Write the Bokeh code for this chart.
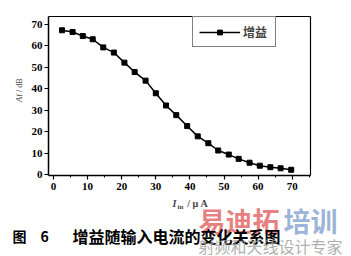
from bokeh.plotting import figure
from bokeh.models import Label, Legend, LegendItem, FixedTicker, Range1d, LinearAxis
from bokeh.embed import file_html
from bokeh.resources import INLINE
import math

current_uA = [2.5, 5.6, 8.6, 11.5, 14.6, 17.7, 20.8, 23.8, 27.0, 30.0, 33.0, 36.0,
              39.2, 42.3, 45.4, 48.3, 51.4, 54.3, 57.5, 60.5, 63.6, 66.6, 69.7]
gain_dB = [67.3, 66.5, 64.6, 63.1, 59.3, 56.9, 52.2, 47.8, 43.8, 37.9, 32.2, 27.7,
           22.6, 17.8, 14.6, 11.2, 9.3, 7.3, 5.5, 4.1, 3.4, 2.9, 2.2]
x_ticks = [0, 10, 20, 30, 40, 50, 60, 70]
x_minor = [5, 15, 25, 35, 45, 55, 65, 75]
y_ticks = [0, 10, 20, 30, 40, 50, 60, 70]
series_name = "增益"
caption_no = "图\u30006"
caption = "增益随输入电流的变化关系图"

# plot box in data units
X0, X1 = -1.5, 75.5
Y0, Y1 = -0.5, 73.7

# canvas pixel -> data conversion (frame fills the whole canvas)
def px2x(px):
    return (px - 53) / 3.41

def py2y(py):
    return (174 - py) / 2.143

W, H = 351, 256
p = figure(width=W, height=H, output_backend="svg", toolbar_location=None,
           x_range=Range1d(px2x(0), px2x(W)), y_range=Range1d(py2y(H), py2y(0)),
           min_border=0)
p.grid.visible = False
p.outline_line_color = None

xa = p.xaxis[0]
ya = p.yaxis[0]
xa.fixed_location = Y0
ya.fixed_location = X0
xa.bounds = (X0, X1)
ya.bounds = (Y0, Y1)
for ax in (xa, ya):
    ax.axis_line_width = 1.5
    ax.major_tick_line_width = 1.2
    ax.major_label_text_font = "Liberation Serif"
    ax.major_label_text_font_style = "bold"
    ax.major_label_text_font_size = "11px"
    ax.major_label_text_color = "black"
    ax.major_tick_out = 4
    ax.major_tick_in = 0
xa.ticker = FixedTicker(ticks=x_ticks, minor_ticks=x_minor)
ya.ticker = FixedTicker(ticks=y_ticks, minor_ticks=[])
xa.minor_tick_out = 2
xa.minor_tick_in = 0
xa.major_label_standoff = 3
ya.major_label_standoff = 2

top = LinearAxis(fixed_location=Y1, bounds=(X0, X1), ticker=FixedTicker(ticks=[]),
                 major_label_text_alpha=0, axis_line_width=1.2)
right = LinearAxis(fixed_location=X1, bounds=(Y0, Y1), ticker=FixedTicker(ticks=[]),
                   major_label_text_alpha=0, axis_line_width=1.2)
p.add_layout(top, "above")
p.add_layout(right, "right")

ln = p.line(current_uA, gain_dB, line_color="black", line_width=1.5)
mk = p.scatter(current_uA, gain_dB, marker="square", size=5, color="black")

legend = Legend(items=[LegendItem(label=series_name, renderers=[ln, mk])],
                location=(192, H - 47), padding=6, glyph_width=41, glyph_height=12,
                label_standoff=3, label_text_font="Noto Sans CJK SC",
                label_text_font_style="bold", label_text_font_size="12px",
                border_line_color="black", border_line_width=1.5,
                background_fill_alpha=1.0, label_height=12, label_width=26)
p.add_layout(legend, "center")


def lab(px, py, text, **kw):
    p.add_layout(Label(x=px2x(px), y=py2y(py), text=text, **kw))


# y axis label
lab(18, 99, "A", angle=math.pi / 2, text_font="Liberation Serif",
    text_font_style="italic", text_font_size="9px", text_align="center",
    text_baseline="middle")
lab(19, 87, "f / dB", angle=math.pi / 2, text_font="Liberation Serif",
    text_font_size="8px", text_align="center", text_baseline="middle")
# x axis label
lab(174, 203, "I", text_font="Liberation Serif", text_font_style="bold italic",
    text_font_size="10px", text_align="center", text_baseline="middle")
lab(180, 206, "in", text_font="Liberation Serif", text_font_style="bold",
    text_font_size="7px", text_align="center", text_baseline="middle")
lab(197, 203, "/ μ A", text_font="Liberation Serif", text_font_style="bold",
    text_font_size="10px", text_align="center", text_baseline="middle")
# watermark
lab(198, 220, "易迪拓", text_font="Noto Sans CJK SC", text_font_style="bold",
    text_font_size="27px", text_color="#e05858", text_alpha=0.75,
    text_align="left", text_baseline="middle")
lab(283, 220, "培训", text_font="Noto Sans CJK SC", text_font_style="bold",
    text_font_size="27px", text_color="#7a9ccc", text_alpha=0.75,
    text_align="left", text_baseline="middle")
# caption
lab(12, 235, caption_no, text_font="Noto Sans CJK SC", text_font_style="bold",
    text_font_size="14px", text_color="black", text_align="left",
    text_baseline="middle")
lab(72, 235, caption, text_font="Noto Sans CJK SC", text_font_style="bold",
    text_font_size="16px", text_color="black", text_align="left",
    text_baseline="middle")
lab(198, 245, "射频和天线设计专家", text_font="Noto Sans CJK SC",
    text_font_size="16px", text_color="#999999", text_alpha=0.8,
    text_align="left", text_baseline="middle")

open("out.html", "w").write(file_html(p, INLINE))
